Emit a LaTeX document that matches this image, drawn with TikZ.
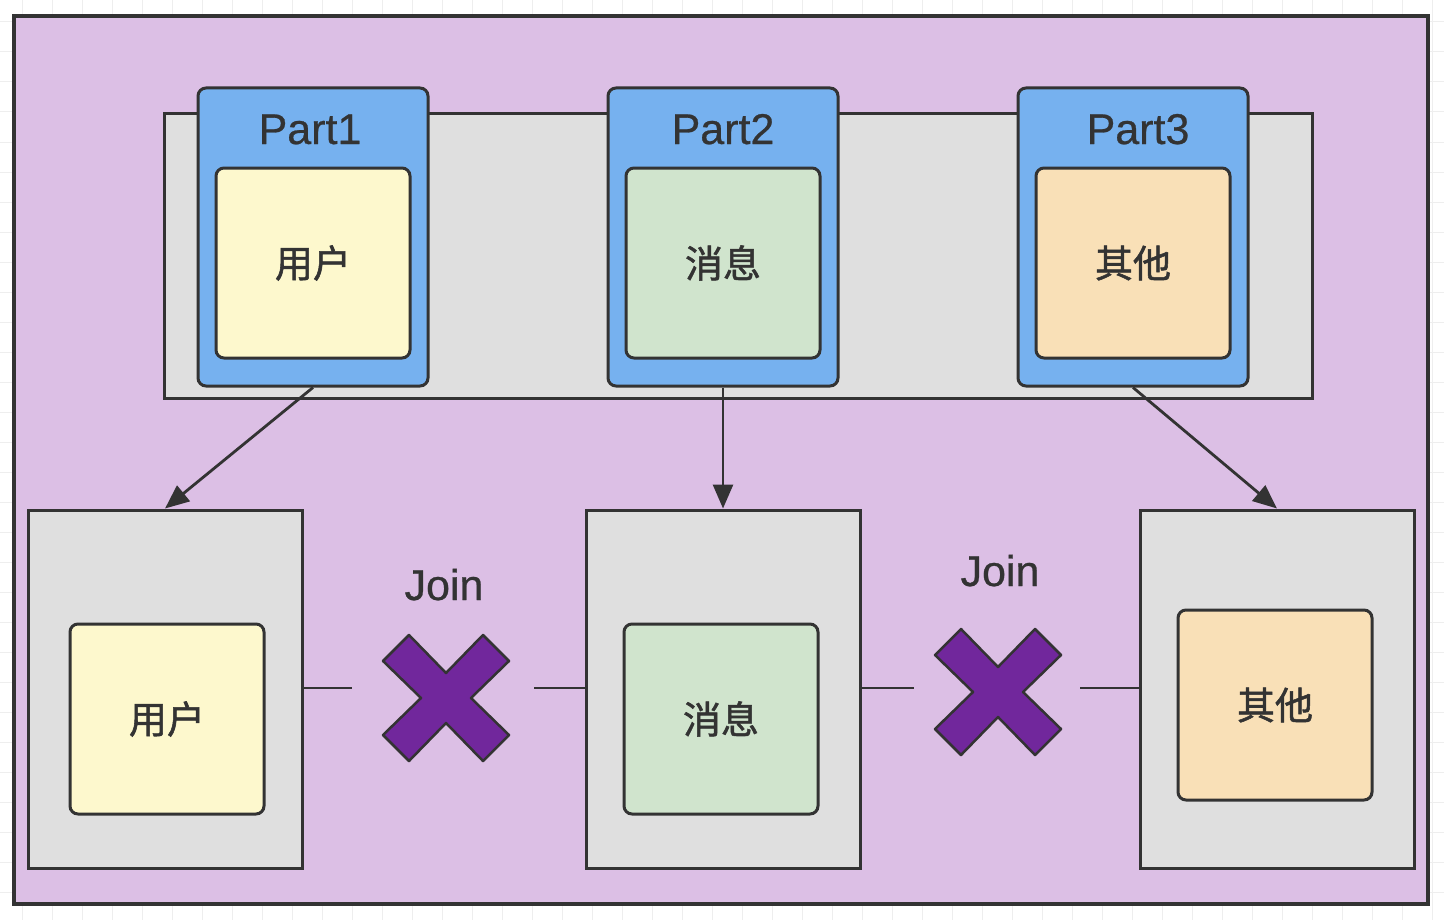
\documentclass[tikz,border=0pt]{standalone}
\usepackage{fontspec}
\setmainfont[FakeBold=0.6]{Liberation Sans}
\newfontfamily\cjk[FakeBold=1.4]{Noto Sans CJK SC}
\usepackage{xcolor}
\usetikzlibrary{arrows.meta}

\definecolor{inkline}{HTML}{333333}
\definecolor{purplebg}{HTML}{DCBFE5}
\definecolor{bandgray}{HTML}{DFDFDF}
\definecolor{partblue}{HTML}{76B1EF}
\definecolor{userfill}{HTML}{FDF8CD}
\definecolor{msgfill}{HTML}{D0E4CD}
\definecolor{otherfill}{HTML}{F9E0B7}
\definecolor{crossfill}{HTML}{71279C}
\definecolor{gridline}{HTML}{EEEEEE}

\tikzset{
  part/.style={draw=inkline, line width=1.5pt, fill=partblue, rounded corners=4pt,
    inner sep=0pt, minimum width=115pt, minimum height=149pt},
  cell/.style={draw=inkline, line width=1.5pt, rounded corners=4pt, inner sep=0pt,
    minimum width=97pt, minimum height=95pt, text=inkline, font=\cjk\fontsize{19}{19}\selectfont},
  holder/.style={draw=inkline, line width=1.5pt, fill=bandgray, inner sep=0pt,
    minimum width=137pt, minimum height=179pt},
  title/.style={text=inkline, anchor=base, font=\fontsize{21.5}{21.5}\selectfont},
  link/.style={draw=inkline, line width=1.4pt},
  flow/.style={link, -{Triangle[length=12pt,width=10pt]}},
  cross/.style={draw=inkline, line width=1.25pt, fill=crossfill, line join=round}
}

\newcommand\joincross[1]{%
  \path[cross] (#1) +(-63,-37) -- +(-37,-63) -- +(0,-25) -- +(37,-63) -- +(63,-37)
    -- +(25,0) -- +(63,37) -- +(37,63) -- +(0,25) -- +(-37,63) -- +(-63,37)
    -- +(-25,0) -- cycle;}

\begin{document}
\begin{tikzpicture}[x=0.5pt, y=-0.5pt]
  \useasboundingbox (0,0) rectangle (1444,920);
  % background grid
  \foreach \g in {22,52,...,1444} \draw[gridline, line width=0.5pt] (\g,0) -- (\g,920);
  \foreach \g in {22,52,...,920} \draw[gridline, line width=0.5pt] (0,\g) -- (1444,\g);

  \node[draw=inkline, line width=2pt, fill=purplebg, inner sep=0pt,
    minimum width=707pt, minimum height=444pt] (frame) at (721,460) {};
  \node[draw=inkline, line width=1.5pt, fill=bandgray, inner sep=0pt,
    minimum width=574pt, minimum height=142pt] (band) at (738,256) {};

  % partitions
  \node[part] (p1) at (313,237) {};
  \node[part] (p2) at (723,237) {};
  \node[part] (p3) at (1133,237) {};
  \node[title] (t1) at (310,144) {Part1};
  \node[title] (t2) at (723,144) {Part2};
  \node[title] (t3) at (1138,144) {Part3};
  \node[cell, fill=userfill] (u1) at (313,263) {用户};
  \node[cell, fill=msgfill] (m1) at (723,263) {消息};
  \node[cell, fill=otherfill] (o1) at (1133,263) {其他};

  % tables
  \node[holder] (b1) at (165,689) {};
  \node[holder] (b2) at (723,689) {};
  \node[holder] (b3) at (1277,689) {};
  \node[cell, fill=userfill] (u2) at (167,719) {用户};
  \node[cell, fill=msgfill] (m2) at (721,719) {消息};
  \node[cell, fill=otherfill] (o2) at (1275,705) {其他};

  \draw[flow] (p1.south) -- (b1.north);
  \draw[flow] (p2.south) -- (b2.north);
  \draw[flow] (p3.south) -- (b3.north);

  \coordinate (j1a) at (352,688);
  \coordinate (j1b) at (534,688);
  \coordinate (j2a) at (914,688);
  \coordinate (j2b) at (1080,688);
  \coordinate (x1) at (446,698);
  \coordinate (x2) at (998,692);
  \draw[link] (b1.east |- j1a) -- (j1a);
  \draw[link] (j1b) -- (b2.west |- j1b);
  \draw[link] (b2.east |- j2a) -- (j2a);
  \draw[link] (j2b) -- (b3.west |- j2b);
  \joincross{x1}
  \joincross{x2}
  \node[title] (l1) at (444,600) {Join};
  \node[title] (l2) at (1000,586) {Join};
\end{tikzpicture}
\end{document}
